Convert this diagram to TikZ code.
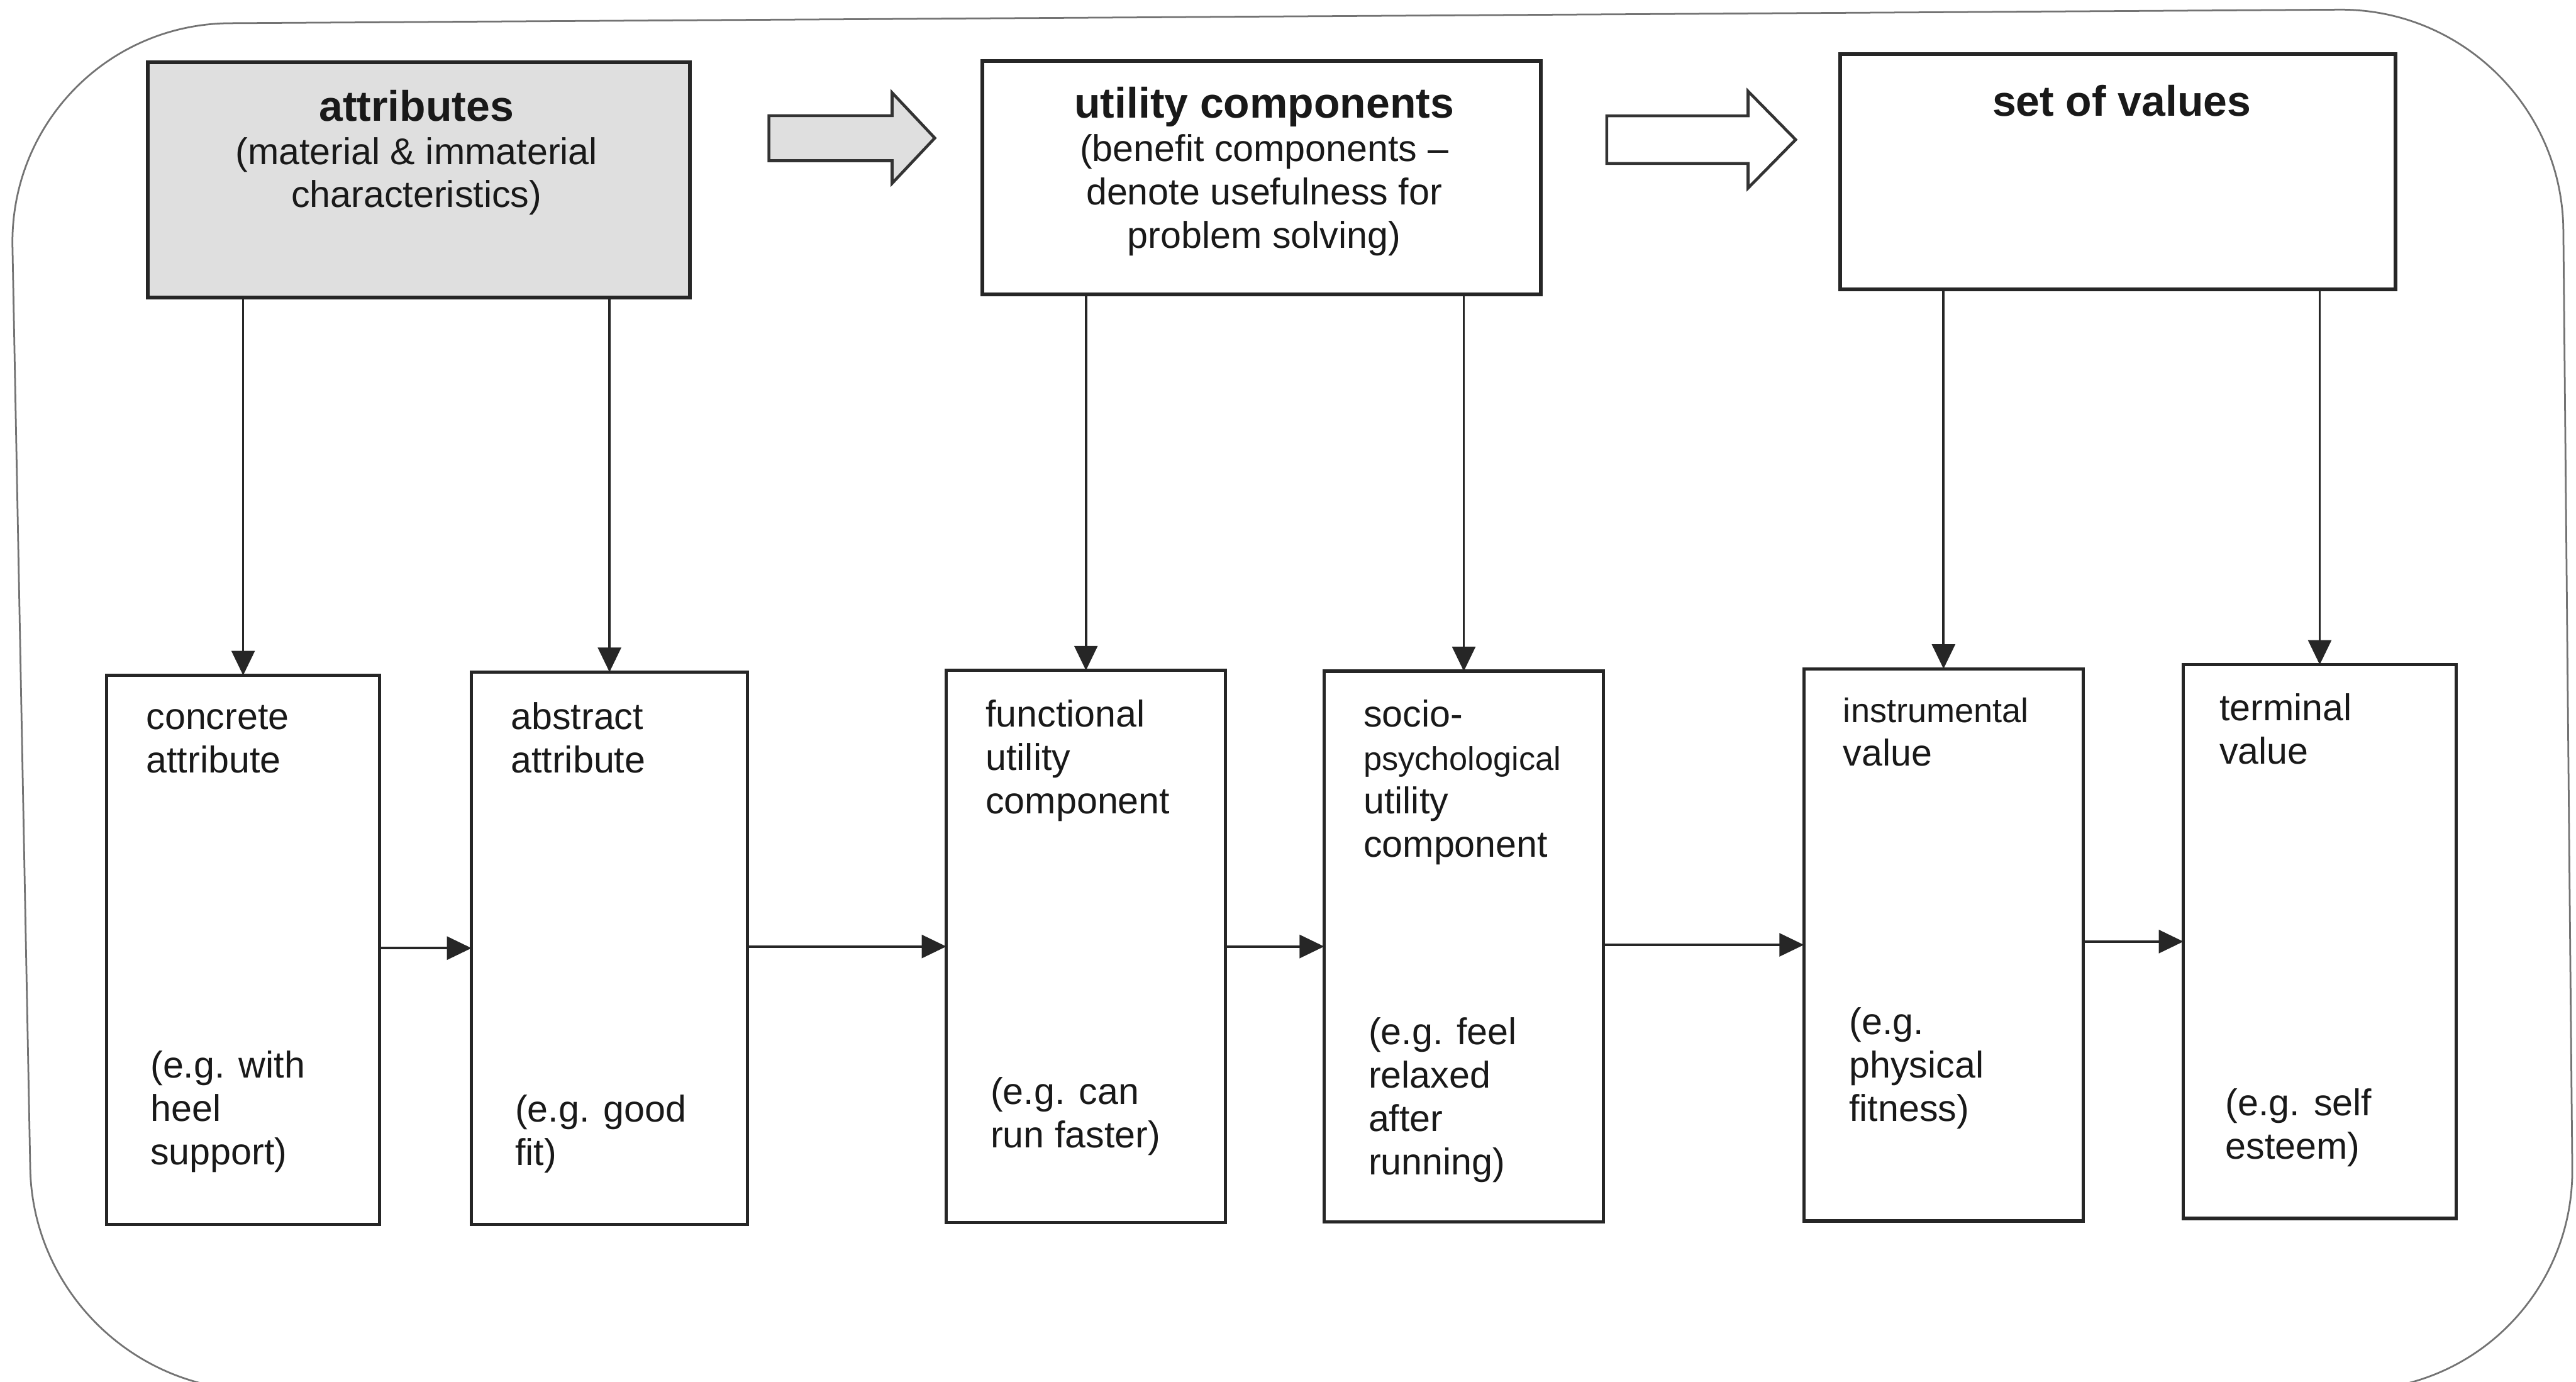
\documentclass[tikz,border=0pt]{standalone}
\usepackage{fontspec}
\setmainfont{Liberation Sans}
\usetikzlibrary{arrows.meta}

% stacked lines whose baseline is that of the first line
\newcommand{\linesL}[1]{\begin{tabular}[t]{@{}l@{}}#1\end{tabular}}
\newcommand{\linesC}[1]{\begin{tabular}[t]{@{}c@{}}#1\end{tabular}}
\newcommand{\hd}[1]{{\fontsize{14.8}{17}\selectfont\bfseries #1}}
\newcommand{\smallword}[2]{{\fontsize{#1}{15}\selectfont #2}}

\begin{document}
\begin{tikzpicture}[x=0.02cm, y=-0.02cm]
\tikzset{
  every node/.style={inner sep=0pt, outer sep=0pt},
  sized/.style 2 args={minimum width=#1*0.02cm, minimum height=#2*0.02cm},
  topbox/.style={rectangle, draw=black!85, line width=1.3pt},
  lowbox/.style={rectangle, draw=black!85, line width=1.15pt},
  link/.style={draw=black!85, line width=0.8pt, -{Triangle[length=8.5pt,width=8pt]}},
  blockarrow/.style={draw=black!80, line width=1pt, line join=miter},
  outerframe/.style={draw=black!55, line width=0.6pt, rounded corners=2.7cm},
  txt/.style={font=\fontsize{12.9}{15}\selectfont, text=black!90},
}
\useasboundingbox (0,0) rectangle (1568,841);
\fill[white] (0,0) rectangle (1568,841);
\clip (0,0) rectangle (1568,841);

% rounded frame around the whole figure
\draw[outerframe] (5,15) -- (1559,5) -- (1567,846) -- (21,846) -- cycle;

% upper row: the three concepts
\node[topbox, fill=gray!25, sized={330}{143}] (A) at (255,109.5) {};
\node[topbox, fill=white, sized={340}{142}] (U) at (768,108) {};
\node[topbox, fill=white, sized={338}{143}] (V) at (1289,104.5) {};

\node[txt, anchor=base] (tA) at (253.5,73.6)
  {\linesC{\hd{attributes}\\(material \& immaterial\\characteristics)}};
\node[txt, anchor=base] (tU) at (769.5,71.9)
  {\linesC{\hd{utility components}\\(benefit components --\\denote usefulness for\\problem solving)}};
\node[txt, anchor=base] (tV) at (1291.5,70.8) {\hd{set of values}};

% block arrows between the concepts
\draw[blockarrow, fill=gray!25] (468,70.4) -- (543,70.4) -- (543,56.4) -- (569,84)
  -- (543,111.6) -- (543,97.8) -- (468,97.8) -- cycle;
\draw[blockarrow, fill=white] (978,70.5) -- (1064,70.5) -- (1064,55.5) -- (1093,85)
  -- (1064,114.5) -- (1064,99.5) -- (978,99.5) -- cycle;

% lower row: the six levels
\node[lowbox, sized={166}{334}] (c1) at (148,578) {};
\node[lowbox, sized={168}{336}] (c2) at (371,577) {};
\node[lowbox, sized={170}{336}] (c3) at (661,576) {};
\node[lowbox, sized={170}{335}] (c4) at (891,576) {};
\node[lowbox, sized={170}{336}] (c5) at (1183,575) {};
\node[lowbox, sized={166}{337}] (c6) at (1412,573) {};

\node[txt, anchor=base west] (c1a) at (89,444) {\linesL{concrete\\attribute}};
\node[txt, anchor=base west] (c1b) at (91.6,656) {\linesL{(e.g. with\\heel\\support)}};
\node[txt, anchor=base west] (c2a) at (311,444) {\linesL{abstract\\attribute}};
\node[txt, anchor=base west] (c2b) at (313.6,682.7) {\linesL{(e.g. good\\fit)}};
\node[txt, anchor=base west] (c3a) at (600,442.4) {\linesL{functional\\utility\\component}};
\node[txt, anchor=base west] (c3b) at (603,672) {\linesL{(e.g. can\\run faster)}};
\node[txt, anchor=base west] (c4a) at (830,442.4)
  {\linesL{socio-\\\smallword{11.4}{psychological}\\utility\\component}};
\node[txt, anchor=base west] (c4b) at (833,635.7) {\linesL{(e.g. feel\\relaxed\\after\\running)}};
\node[txt, anchor=base west] (c5a) at (1122,439.8) {\linesL{\smallword{11.8}{instrumental}\\value}};
\node[txt, anchor=base west] (c5b) at (1125.6,629.6) {\linesL{(e.g.\\physical\\fitness)}};
\node[txt, anchor=base west] (c6a) at (1351,438.7) {\linesL{terminal\\value}};
\node[txt, anchor=base west] (c6b) at (1354.7,679) {\linesL{(e.g. self\\esteem)}};

% links from each concept to its two levels
\draw[link] (c1.north |- A.south) -- (c1.north);
\draw[link] (c2.north |- A.south) -- (c2.north);
\draw[link] (c3.north |- U.south) -- (c3.north);
\draw[link] (c4.north |- U.south) -- (c4.north);
\draw[link] (c5.north |- V.south) -- (c5.north);
\draw[link] (c6.north |- V.south) -- (c6.north);

% chain along the lower row
\draw[link] (c1.east |- c2.west) -- (c2.west);
\draw[link] (c2.east |- c3.west) -- (c3.west);
\draw[link] (c3.east |- c4.west) -- (c4.west);
\draw[link] (c4.east |- c5.west) -- (c5.west);
\draw[link] (c5.east |- c6.west) -- (c6.west);
\end{tikzpicture}
\end{document}
